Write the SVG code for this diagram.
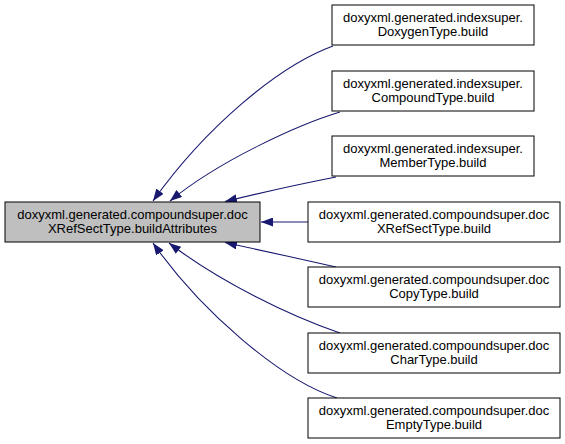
<svg xmlns="http://www.w3.org/2000/svg" width="565" height="444" viewBox="0 0 565 444">
<defs>
<style>
.node rect{fill:#ffffff;stroke:#000000;stroke-width:1}
#n0 rect{fill:#bfbfbf}
text{font-family:"Liberation Sans",Arial,Helvetica,sans-serif;font-size:13px;fill:#000000;text-anchor:middle}
.edge{fill:none;stroke:#191970;stroke-width:1.1;marker-end:url(#arr)}
</style>
<marker id="arr" markerUnits="userSpaceOnUse" markerWidth="12" markerHeight="9" viewBox="0 0 12 9" refX="12" refY="4.5" orient="auto">
<path d="M0,0 L12,4.5 L0,9 z" fill="#191970"/>
</marker>
</defs>
<rect width="565" height="444" fill="#ffffff"/>
<g id="edges">
<path class="edge" d="M333,46 C278,66 205,128 153,201"/>
<path class="edge" d="M340,112 C300,124 220,160 170,201"/>
<path class="edge" d="M336,177 C300,184 260,193 225,201.5"/>
<path class="edge" d="M308,222 L261,222"/>
<path class="edge" d="M336,267 C300,259 260,250 225,242.5"/>
<path class="edge" d="M340,333 C290,316 220,282 169,243"/>
<path class="edge" d="M337,398 C280,380 200,310 153,243"/>
</g>
<g id="n0" class="node"><rect x="5" y="202" width="255" height="40"/><text x="132.5" y="219">doxyxml.generated.compoundsuper.doc</text><text x="132.5" y="233">XRefSectType.buildAttributes</text></g>
<g id="n1" class="node"><rect x="332" y="5" width="202" height="40"/><text x="433" y="22">doxyxml.generated.indexsuper.</text><text x="433" y="36">DoxygenType.build</text></g>
<g id="n2" class="node"><rect x="332" y="71" width="202" height="40"/><text x="433" y="88">doxyxml.generated.indexsuper.</text><text x="433" y="102">CompoundType.build</text></g>
<g id="n3" class="node"><rect x="332" y="136" width="202" height="40"/><text x="433" y="153">doxyxml.generated.indexsuper.</text><text x="433" y="167">MemberType.build</text></g>
<g id="n4" class="node"><rect x="308" y="202" width="252" height="40"/><text x="434" y="219">doxyxml.generated.compoundsuper.doc</text><text x="434" y="233">XRefSectType.build</text></g>
<g id="n5" class="node"><rect x="308" y="267" width="252" height="40"/><text x="434" y="284">doxyxml.generated.compoundsuper.doc</text><text x="434" y="298">CopyType.build</text></g>
<g id="n6" class="node"><rect x="308" y="333" width="252" height="40"/><text x="434" y="350">doxyxml.generated.compoundsuper.doc</text><text x="434" y="364">CharType.build</text></g>
<g id="n7" class="node"><rect x="308" y="398" width="252" height="40"/><text x="434" y="415">doxyxml.generated.compoundsuper.doc</text><text x="434" y="429">EmptyType.build</text></g>
</svg>
